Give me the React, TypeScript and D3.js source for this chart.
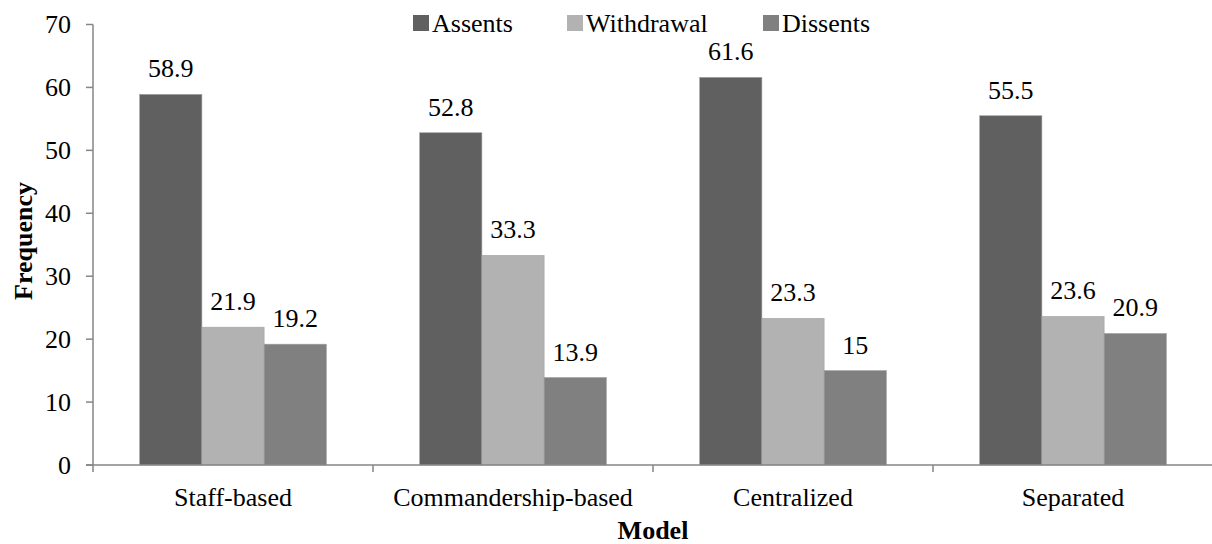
import React from "react";
import * as d3 from "d3";

const categories = ["Staff-based", "Commandership-based", "Centralized", "Separated"];
const seriesNames = ["Assents", "Withdrawal", "Dissents"];
const assents = [58.9, 52.8, 61.6, 55.5];
const withdrawal = [21.9, 33.3, 23.3, 23.6];
const dissents = [19.2, 13.9, 15, 20.9];
const yTicks = [0, 10, 20, 30, 40, 50, 60, 70];
const colors = ["#606060", "#b2b2b2", "#808080"];

const W = 1212;
const H = 544;
const FONT = "'Liberation Serif', 'Times New Roman', serif";
const FS = 26;

export default function App() {
  const values = [assents, withdrawal, dissents];
  const x = d3.scaleBand<string>().domain(categories).range([93, 1213]).paddingInner(1 / 3).paddingOuter(1 / 6);
  const xs = d3.scaleBand<string>().domain(seriesNames).range([0, x.bandwidth()]).padding(0);
  const y = d3.scaleLinear().domain([0, 70]).range([465, 24.5]);
  const step = x.step();
  const axisColor = "#868686";
  const legendX = [413, 567, 763];
  const ts = { fontFamily: FONT };

  return (
    <svg width={W} height={H} style={{ position: "absolute", left: 0, top: 0, background: "#fff", fontFamily: FONT }}>
      {categories.map((c, i) =>
        seriesNames.map((s, j) => {
          const v = values[j][i];
          const bx = (x(c) as number) + (xs(s) as number);
          return (
            <g key={c + s}>
              <rect x={bx} y={y(v)} width={xs.bandwidth()} height={y(0) - y(v)} fill={colors[j]} stroke="#a0a0a0" strokeWidth={0.6} />
              <text x={bx + xs.bandwidth() / 2} y={y(v) - 17} textAnchor="middle" fontSize={FS} fill="#000" style={ts}>
                {String(v)}
              </text>
            </g>
          );
        })
      )}
      <line x1={93} x2={93} y1={y(70)} y2={y(0)} stroke={axisColor} strokeWidth={1.5} />
      {yTicks.map((t) => (
        <g key={t}>
          <line x1={86} x2={93} y1={y(t)} y2={y(t)} stroke={axisColor} strokeWidth={1.5} />
          <text x={71} y={y(t) + 8.5} textAnchor="end" fontSize={FS} fill="#000" style={ts}>
            {t}
          </text>
        </g>
      ))}
      <line x1={86} x2={1213} y1={y(0)} y2={y(0)} stroke={axisColor} strokeWidth={1.5} />
      {d3.range(categories.length + 1).map((k) => (
        <line key={k} x1={93 + k * step} x2={93 + k * step} y1={y(0)} y2={y(0) + 7} stroke={axisColor} strokeWidth={1.5} />
      ))}
      {categories.map((c) => (
        <text key={c} x={(x(c) as number) + x.bandwidth() / 2} y={506} textAnchor="middle" fontSize={FS} fill="#000" style={ts}>
          {c}
        </text>
      ))}
      <text x={653} y={539} textAnchor="middle" fontSize={FS} fontWeight="bold" fill="#000" style={ts}>
        Model
      </text>
      <text transform={`translate(32, 241) rotate(-90)`} textAnchor="middle" fontSize={FS} fontWeight="bold" fill="#000" style={ts}>
        Frequency
      </text>
      {seriesNames.map((s, j) => (
        <g key={s}>
          <rect x={legendX[j]} y={15} width={16} height={16} fill={colors[j]} />
          <text x={legendX[j] + 19} y={31.5} fontSize={FS} fill="#000" style={ts}>
            {s}
          </text>
        </g>
      ))}
    </svg>
  );
}
